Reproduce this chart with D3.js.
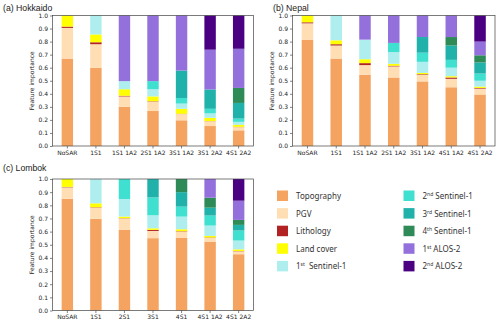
<!DOCTYPE html>
<html>
<head>
<meta charset="utf-8">
<script src="https://cdn.jsdelivr.net/npm/d3@7"></script>
<style>
  body { margin: 0; background: #fff; }
  svg { display: block; }
  .tick text { font-family: "DejaVu Sans", sans-serif; font-size: 6px; fill: #222; }
  .tick line { stroke: #333; stroke-width: 0.6; }
  .title { font-family: "Liberation Sans", "Noto Sans", sans-serif; font-size: 8.7px; fill: #222; }
  .ylab { font-family: "DejaVu Sans", sans-serif; font-size: 6px; fill: #222; }
  .leg { font-family: "Noto Sans", "Liberation Sans", sans-serif; font-size: 8px; fill: #333; white-space: pre; }
</style>
</head>
<body>
<div id="chart"></div>
<script>
// stack layers, bottom to top
var layers = ["Topography", "PGV", "Lithology", "Land cover", "1st Sentinel-1",
  "2nd Sentinel-1", "3rd Sentinel-1", "4th Sentinel-1", "1st ALOS-2", "2nd ALOS-2"];
var layerColors = ["#f4a460", "#ffdeb4", "#b22222", "#ffff00", "#afeeee",
  "#40e0d0", "#20b2aa", "#2e8b57", "#9370db", "#4b0082"];

// (a) Hokkaido
var hkCats = ["NoSAR", "1S1", "1S1 1A2", "2S1 1A2", "3S1 1A2", "3S1 2A2", "4S1 2A2"];
var hkTopo = [0.67, 0.60, 0.30, 0.268, 0.197, 0.153, 0.12];
var hkPgv  = [0.235, 0.18, 0.08, 0.072, 0.048, 0.037, 0.025];
var hkLith = [0.01, 0.015, 0.005, 0.003, 0.002, 0.001, 0.002];
var hkLand = [0.085, 0.06, 0.05, 0.037, 0.038, 0.025, 0.015];
var hkS1a  = [0, 0.145, 0.062, 0.055, 0.04, 0.034, 0.023];
var hkS1b  = [0, 0, 0, 0.062, 0.043, 0.035, 0.025];
var hkS1c  = [0, 0, 0, 0, 0.21, 0.148, 0.12];
var hkS1d  = [0, 0, 0, 0, 0, 0, 0.115];
var hkA2a  = [0, 0, 0.503, 0.503, 0.422, 0.305, 0.30];
var hkA2b  = [0, 0, 0, 0, 0, 0.262, 0.255];

// (b) Nepal
var npCats = ["NoSAR", "1S1", "1S1 1A2", "2S1 1A2", "3S1 1A2", "4S1 1A2", "4S1 2A2"];
var npTopo = [0.815, 0.67, 0.545, 0.525, 0.495, 0.45, 0.395];
var npPgv  = [0.125, 0.10, 0.075, 0.085, 0.05, 0.065, 0.045];
var npLith = [0.008, 0.01, 0.015, 0.005, 0.005, 0.01, 0.005];
var npLand = [0.052, 0.03, 0.03, 0.015, 0.01, 0.01, 0.01];
var npS1a  = [0, 0.19, 0.15, 0.09, 0.085, 0.065, 0.045];
var npS1b  = [0, 0, 0, 0.07, 0.07, 0.06, 0.055];
var npS1c  = [0, 0, 0, 0, 0.12, 0.11, 0.085];
var npS1d  = [0, 0, 0, 0, 0, 0.065, 0.055];
var npA2a  = [0, 0, 0.185, 0.21, 0.165, 0.165, 0.105];
var npA2b  = [0, 0, 0, 0, 0, 0, 0.20];

// (c) Lombok
var lbCats = ["NoSAR", "1S1", "2S1", "3S1", "4S1", "4S1 1A2", "4S1 2A2"];
var lbTopo = [0.85, 0.698, 0.615, 0.55, 0.554, 0.524, 0.428];
var lbPgv  = [0.087, 0.084, 0.085, 0.055, 0.046, 0.028, 0.022];
var lbLith = [0.003, 0.003, 0.002, 0.008, 0.003, 0.003, 0.002];
var lbLand = [0.06, 0.03, 0.012, 0.012, 0.015, 0.012, 0.013];
var lbS1a  = [0, 0.185, 0.134, 0.099, 0.096, 0.079, 0.067];
var lbS1b  = [0, 0, 0.152, 0.136, 0.076, 0.076, 0.076];
var lbS1c  = [0, 0, 0, 0.14, 0.11, 0.06, 0.043];
var lbS1d  = [0, 0, 0, 0, 0.10, 0.076, 0.038];
var lbA2a  = [0, 0, 0, 0, 0, 0.142, 0.146];
var lbA2b  = [0, 0, 0, 0, 0, 0, 0.165];

var yTicks = d3.range(0, 1.01, 0.1);

var svg = d3.select("#chart").append("svg")
  .attr("width", 500)
  .attr("height", 323);

// build a table of rows for d3.stack
function buildRows(cats, cols) {
  return cats.map(function(c, i) {
    var row = { cat: c };
    layers.forEach(function(l, j) { row[l] = cols[j][i]; });
    return row;
  });
}

function drawPanel(title, cats, cols, box, titlePos) {
  var rows = buildRows(cats, cols);
  var stack = d3.stack().keys(layers)(rows);

  var x = d3.scaleBand()
    .domain(cats)
    .range([box.x0, box.x1])
    .paddingInner(0.6)
    .paddingOuter(0.32);
  var y = d3.scaleLinear()
    .domain([0, 1])
    .range([box.y1, box.y0]);

  var g = svg.append("g");

  g.selectAll("g.layer")
    .data(stack)
    .enter().append("g")
    .attr("class", "layer")
    .attr("fill", function(d, i) { return layerColors[i]; })
    .selectAll("rect")
    .data(function(d) { return d; })
    .enter().append("rect")
    .attr("x", function(d) { return x(d.data.cat); })
    .attr("width", x.bandwidth())
    .attr("y", function(d) { return y(d[1]); })
    .attr("height", function(d) { return Math.max(0, y(d[0]) - y(d[1])); });

  // axes
  var yAxis = d3.axisLeft(y).tickValues(yTicks).tickFormat(d3.format(".1f"))
    .tickSize(2.5).tickSizeOuter(0).tickPadding(2);
  g.append("g")
    .attr("transform", "translate(" + box.x0 + ",0)")
    .call(yAxis)
    .call(function(a) { a.select(".domain").remove(); });

  var xAxis = d3.axisBottom(x).tickSize(2.5).tickSizeOuter(0).tickPadding(2);
  g.append("g")
    .attr("transform", "translate(0," + box.y1 + ")")
    .call(xAxis)
    .call(function(a) { a.select(".domain").remove(); });

  // frame
  g.append("rect")
    .attr("x", box.x0)
    .attr("y", box.y0)
    .attr("width", box.x1 - box.x0)
    .attr("height", box.y1 - box.y0)
    .attr("fill", "none")
    .attr("stroke", "#444")
    .attr("stroke-width", 0.7);

  g.append("text")
    .attr("class", "ylab")
    .attr("transform", "translate(" + (box.x0 - 19) + "," + ((box.y0 + box.y1) / 2) + ")rotate(-90)")
    .attr("text-anchor", "middle")
    .text("Feature importance");

  g.append("text")
    .attr("class", "title")
    .attr("x", titlePos[0])
    .attr("y", titlePos[1])
    .text(title);
}

drawPanel("(a) Hokkaido", hkCats,
  [hkTopo, hkPgv, hkLith, hkLand, hkS1a, hkS1b, hkS1c, hkS1d, hkA2a, hkA2b],
  { x0: 52.5, x1: 253.5, y0: 15.5, y1: 146 }, [3, 11]);

drawPanel("(b) Nepal", npCats,
  [npTopo, npPgv, npLith, npLand, npS1a, npS1b, npS1c, npS1d, npA2a, npA2b],
  { x0: 292.5, x1: 495, y0: 15.5, y1: 146 }, [273, 11]);

drawPanel("(c) Lombok", lbCats,
  [lbTopo, lbPgv, lbLith, lbLand, lbS1a, lbS1b, lbS1c, lbS1d, lbA2a, lbA2b],
  { x0: 52.5, x1: 253.5, y0: 179, y1: 310.5 }, [3, 171]);

// legend, two columns of five
var legend = svg.append("g");
layers.forEach(function(name, i) {
  var col = Math.floor(i / 5);
  var row = i % 5;
  var lx = col === 0 ? 277 : 403.5;
  var ly = 190.5 + row * 17.6;
  legend.append("rect")
    .attr("x", lx)
    .attr("y", ly)
    .attr("width", 11)
    .attr("height", 10.5)
    .attr("fill", layerColors[i]);
  var t = legend.append("text")
    .attr("class", "leg")
    .attr("x", lx + 19)
    .attr("y", ly + 8.5);
  var m = name.match(/^(\d)(st|nd|rd|th) (.*)$/);
  if (m) {
    t.append("tspan").text(m[1]);
    t.append("tspan").attr("font-size", "5px").attr("dy", -3).text(m[2]);
    t.append("tspan").attr("dy", 3).text((col === 0 ? "  " : " ") + m[3]);
  } else {
    t.text(name);
  }
});
</script>
</body>
</html>
